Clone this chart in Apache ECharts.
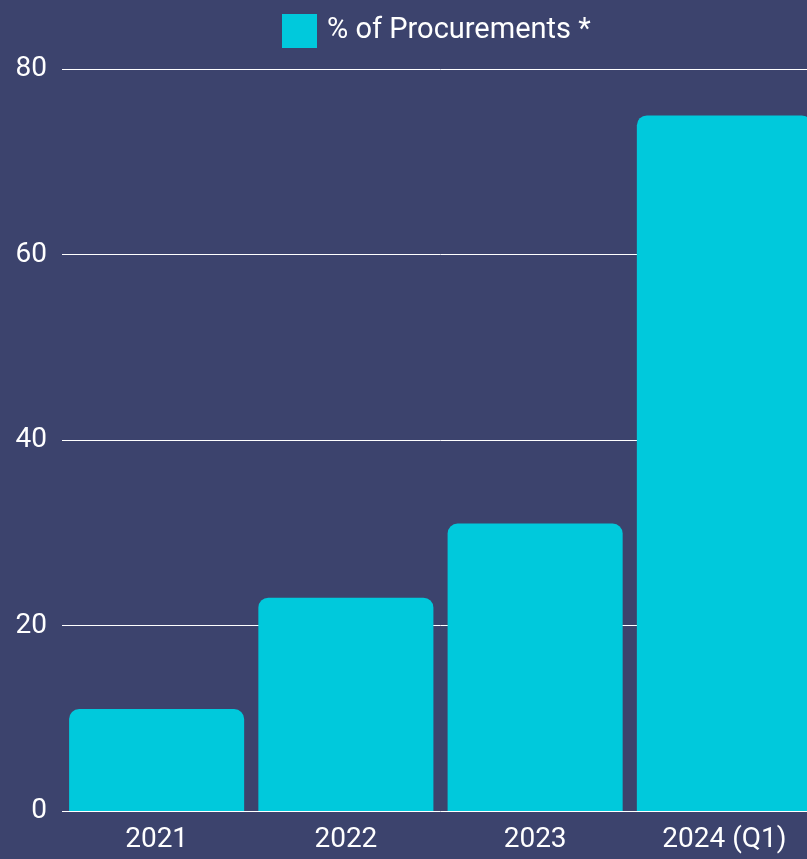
<!DOCTYPE html>
<html><head><meta charset="utf-8">
<script src="https://cdn.jsdelivr.net/npm/echarts@6/dist/echarts.min.js"></script>
<style>html,body{margin:0;padding:0;background:#3c436d;overflow:hidden;width:807px;height:859px;}#c{width:819px;height:859px;}</style>
</head><body><div id="c"></div>
<script>
const categories = ['2021', '2022', '2023', '2024 (Q1)'];
const seriesName = '% of Procurements *';
const values = [11, 23, 31, 75];
const yTicks = { min: 0, max: 80, interval: 20 };

const chart = echarts.init(document.getElementById('c'), null, { renderer: 'canvas' });
chart.setOption({
  backgroundColor: '#3c436d',
  animation: false,
  textStyle: { fontFamily: 'Roboto' },
  legend: {
    top: 9, left: 277,
    icon: 'rect',
    itemWidth: 35, itemHeight: 34, itemGap: 10,
    textStyle: { color: '#ffffff', fontSize: 29, fontFamily: 'Roboto', padding: [0, 0, 0, 5] },
    data: [seriesName]
  },
  grid: { left: 62, right: 0, top: 69, bottom: 48, containLabel: false, outerBoundsMode: 'none' },
  xAxis: {
    type: 'category', data: categories,
    axisLine: { show: false }, axisTick: { show: false },
    axisLabel: { color: '#ffffff', fontSize: 28, margin: 15, fontFamily: 'Roboto' }
  },
  yAxis: {
    type: 'value', min: yTicks.min, max: yTicks.max, interval: yTicks.interval,
    axisLine: { show: false }, axisTick: { show: false },
    axisLabel: { color: '#ffffff', fontSize: 28, margin: 15, fontFamily: 'Roboto' },
    splitLine: { lineStyle: { color: '#ffffff', width: 1 } }
  },
  series: [{
    name: seriesName, type: 'bar', data: values,
    barCategoryGap: '7.5%',
    itemStyle: { color: '#00c9dc', borderRadius: [10, 10, 0, 0] }
  }]
});
</script></body></html>
